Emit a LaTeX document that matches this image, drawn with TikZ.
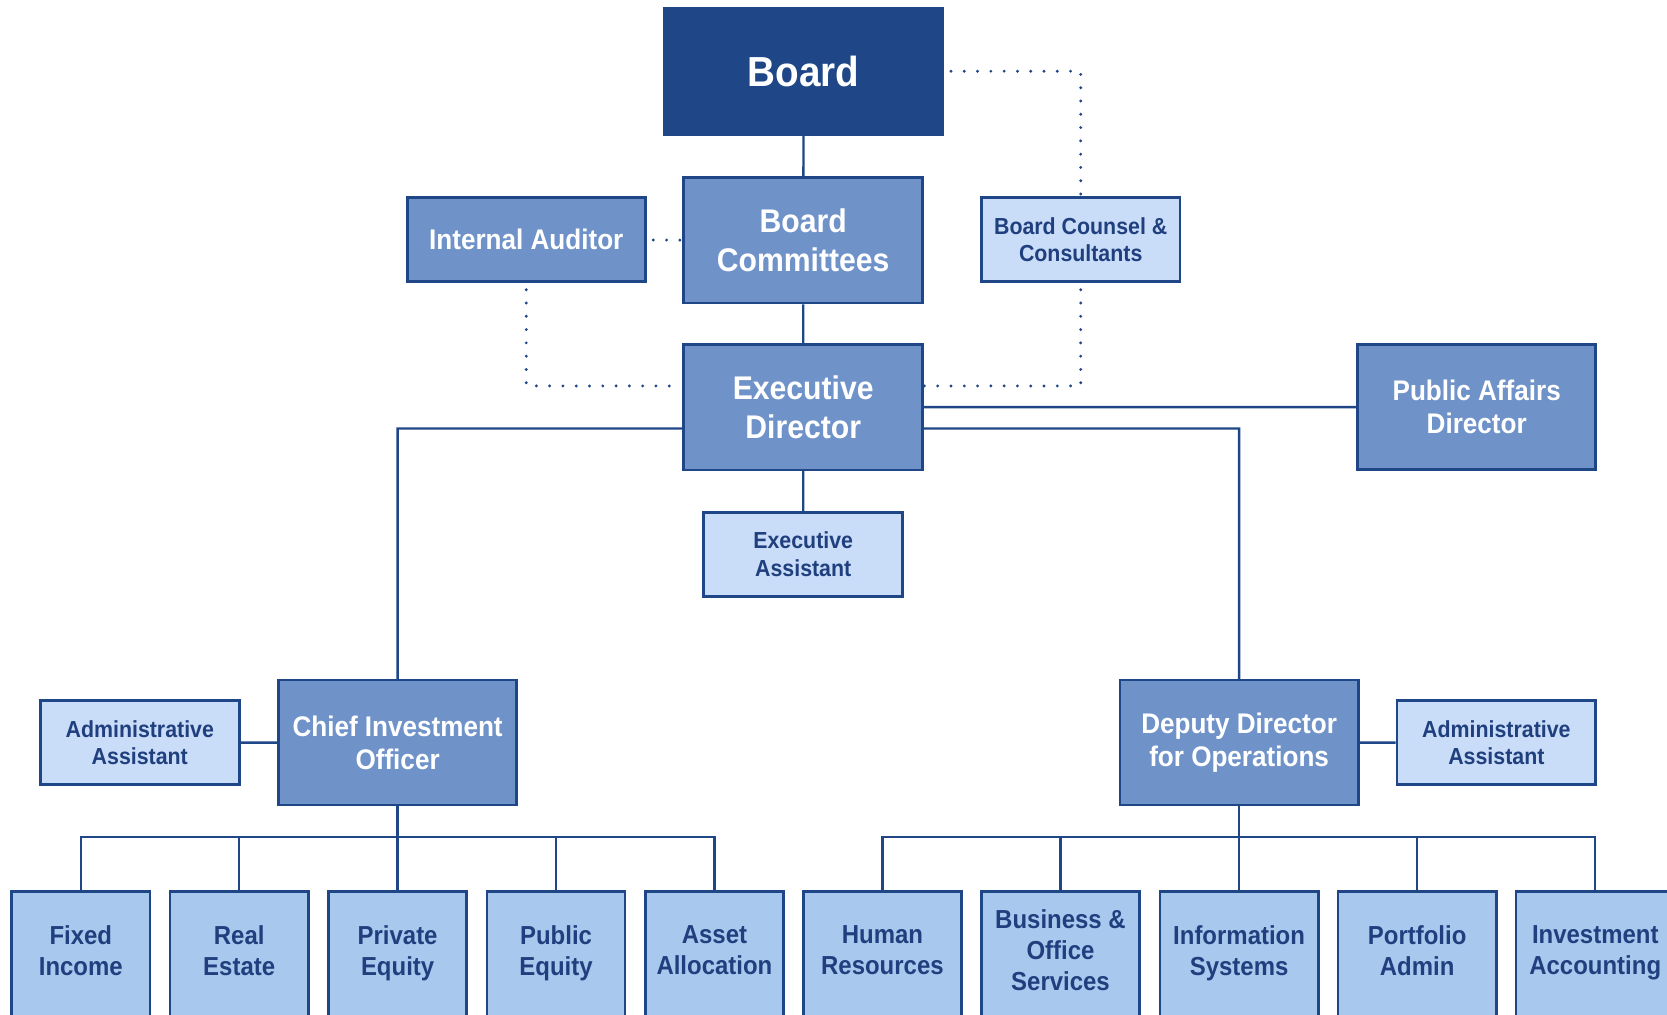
\documentclass[tikz,border=0pt]{standalone}
\usepackage{fontspec}
\setmainfont{Liberation Sans}[FakeStretch=0.92]
\usetikzlibrary{positioning, calc}

\definecolor{boardblue}{RGB}{31,71,136}
\definecolor{midblue}{RGB}{111,147,201}
\definecolor{paleblue}{RGB}{201,220,248}
\definecolor{unitblue}{RGB}{169,200,238}
\definecolor{navytext}{RGB}{32,63,126}

\begin{document}
\begin{tikzpicture}[x=0.6pt, y=-0.6pt]
    \tikzset{
      every node/.style={draw=boardblue, line width=1.5pt, align=center, inner sep=2pt}, % all boxes framed
      boardbox/.style={fill=boardblue, text=white, minimum width=157.2pt, minimum height=71.4pt,
        font=\bfseries\fontsize{23.7}{28}\selectfont},
      bigbox/.style={fill=midblue, text=white, minimum width=135pt, minimum height=70.8pt,
        font=\bfseries\fontsize{18.5}{21.6}\selectfont},
      midbox/.style={fill=midblue, text=white, minimum width=134.4pt, minimum height=70.5pt,
        font=\bfseries\fontsize{16}{18.6}\selectfont},
      palebox/.style={fill=paleblue, text=navytext, minimum width=112.2pt, minimum height=47.4pt,
        font=\bfseries\fontsize{13.1}{15.6}\selectfont},
      unitbox/.style={fill=unitblue, text=navytext, anchor=north, minimum height=72pt,
        execute at begin node=\strut, execute at end node=\strut, % even lines in every unit
        font=\bfseries\fontsize{14.7}{17.4}\selectfont},
      orgline/.style={draw=boardblue, line width=1.35pt},
      dotline/.style={draw=boardblue, line width=1.8pt, line cap=round,
        dash pattern=on 0pt off 7.5pt, dash phase=3.75pt},
    }

    \useasboundingbox (0,0) rectangle (1568,954);
    \clip (0,0) rectangle (1568,954);

    % top of the chart
    \node[boardbox] (board) at (756,67) {Board};
    \node[bigbox] (cttees) at (755.5,226) {Board\\Committees};
    \node[midbox, minimum height=47.4pt] (auditor) at (495,225.5) {Internal Auditor};
    \node[palebox] (counsel) at (1016.5,225.5) {Board Counsel \&\\Consultants};
    \node[bigbox] (exec) at (755.5,383) {Executive\\Director};
    \node[midbox] (pubaff) at (1389,383) {Public Affairs\\Director};
    \node[palebox] (execasst) at (755.5,521.5) {Executive\\Assistant};

    % second level
    \node[midbox] (cio) at (374,698.5) {Chief Investment\\Officer};
    \node[palebox] (cioasst) at (131.5,698.5) {Administrative\\Assistant};
    \node[midbox] (ddo) at (1165.5,698.5) {Deputy Director\\for Operations};
    \node[palebox] (ddoasst) at (1407.5,698.5) {Administrative\\Assistant};

    % investment units
    \node[unitbox, minimum width=78pt] (fixed) at (76,837) {Fixed\\Income};
    \node[unitbox, minimum width=78pt] (realest) at (225,837) {Real\\Estate};
    \node[unitbox, minimum width=78pt] (priveq) at (374,837) {Private\\Equity};
    \node[unitbox, minimum width=78pt] (pubeq) at (523,837) {Public\\Equity};
    \node[unitbox, minimum width=78pt] (assetall) at (672,837) {Asset\\Allocation};

    % operations units
    \node[unitbox, minimum width=89.4pt] (hr) at (830,837) {Human\\Resources};
    \node[unitbox, minimum width=89.4pt] (bos) at (997.5,837) {Business \&\\Office\\Services};
    \node[unitbox, minimum width=89.4pt] (infosys) at (1165.5,837) {Information\\Systems};
    \node[unitbox, minimum width=89.4pt] (portadm) at (1333,837) {Portfolio\\Admin};
    \node[unitbox, minimum width=89.4pt] (invacc) at (1500.5,837) {Investment\\Accounting};

    \coordinate (ciobus) at (374,787);
    \coordinate (ddobus) at (1165.5,787);

    \draw[orgline] (board) -- (cttees)
          (cttees) -- (exec)
          (exec) -- (pubaff)
          (exec) -- (execasst)
          ($(exec.west)+(0,20)$) -| (cio)
          ($(exec.east)+(0,20)$) -| (ddo)
          (cio) -- (cioasst)
          (ddo) -- (ddoasst);

    \draw[orgline] (cio) -- (ciobus)
          (ciobus) -| (fixed)
          (ciobus) -| (realest)
          (ciobus) -- (priveq)
          (ciobus) -| (pubeq)
          (ciobus) -| (assetall);

    \draw[orgline] (ddo) -- (ddobus)
          (ddobus) -| (hr)
          (ddobus) -| (bos)
          (ddobus) -- (infosys)
          (ddobus) -| (portadm)
          (ddobus) -| (invacc);

    \draw[dotline] (board) -| (counsel)
          (auditor) -- (cttees)
          (auditor) |- ($(exec.west)+(0,-20)$)
          (counsel) |- ($(exec.east)+(0,-20)$);
\end{tikzpicture}
\end{document}
